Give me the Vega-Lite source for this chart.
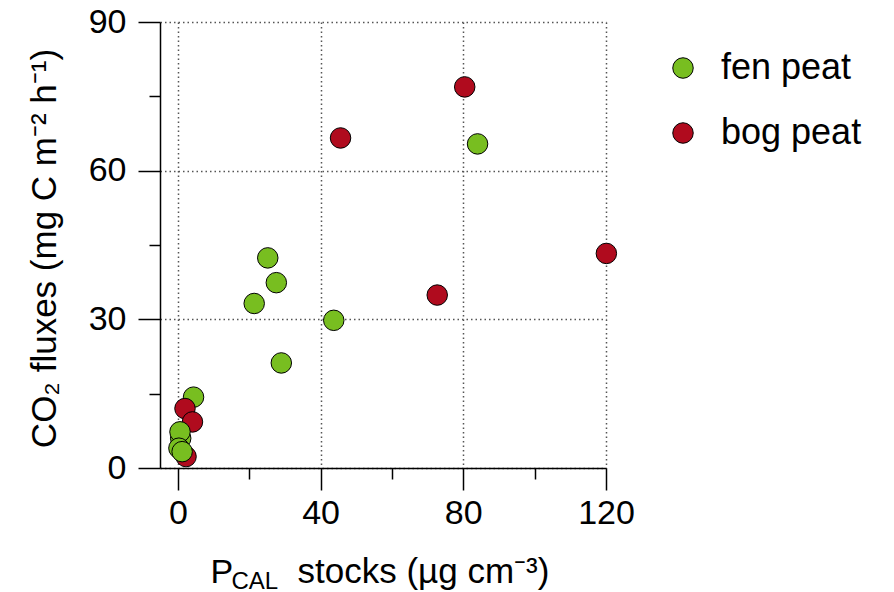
{
  "$schema": "https://vega.github.io/schema/vega-lite/v6.json",
  "width": 446,
  "height": 446,
  "autosize": {"type": "none"},
  "padding": {"left": 160, "top": 22, "right": 288, "bottom": 124},
  "background": "white",
  "config": {
    "font": "Liberation Sans",
    "view": {"stroke": null},
    "axis": {"labelFont": "Liberation Sans", "titleFont": "Liberation Sans", "labelColor": "black", "titleColor": "black", "domainColor": "black", "tickColor": "black", "titleFontWeight": "normal"}
  },
  "datasets": {
    "pts": [
      {"x": 2.3, "y": 2.3, "peat": "bog peat"},
      {"x": 4.4, "y": 14.3, "peat": "fen peat"},
      {"x": 2.0, "y": 12.0, "peat": "bog peat"},
      {"x": 4.1, "y": 9.3, "peat": "bog peat"},
      {"x": 0.8, "y": 6.0, "peat": "fen peat"},
      {"x": 0.6, "y": 7.3, "peat": "fen peat"},
      {"x": 0.3, "y": 4.0, "peat": "fen peat"},
      {"x": 1.2, "y": 3.3, "peat": "fen peat"},
      {"x": 84.0, "y": 65.4, "peat": "fen peat"},
      {"x": 25.2, "y": 42.4, "peat": "fen peat"},
      {"x": 27.6, "y": 37.4, "peat": "fen peat"},
      {"x": 21.4, "y": 33.2, "peat": "fen peat"},
      {"x": 43.7, "y": 29.8, "peat": "fen peat"},
      {"x": 29.0, "y": 21.2, "peat": "fen peat"},
      {"x": 80.4, "y": 76.9, "peat": "bog peat"},
      {"x": 45.6, "y": 66.6, "peat": "bog peat"},
      {"x": 120.1, "y": 43.3, "peat": "bog peat"},
      {"x": 72.7, "y": 34.9, "peat": "bog peat"}
    ]
  },
  "data": {"name": "pts"},
  "resolve": {"axis": {"x": "independent", "y": "independent"}},
  "layer": [
    {
      "mark": {"type": "point", "filled": true, "shape": "circle", "size": 420, "stroke": "black", "strokeWidth": 1, "opacity": 1},
      "encoding": {
        "x": {"field": "x", "type": "quantitative", "scale": {"domain": [-5, 120], "nice": false, "zero": false},
          "axis": {"orient": "bottom", "values": [0, 40, 80, 120], "tickSize": 22, "tickWidth": 1.5, "domainWidth": 1.5, "labelFontSize": 34, "labelPadding": 6, "labelFlush": false, "labelOverlap": false,
            "grid": true, "gridColor": "#555", "gridDash": [1.5, 3], "gridWidth": 1.5,
            "title": "stocks (µg cm⁻³)", "titleFontSize": 35, "titleX": 137, "titleY": 114, "titleAlign": "left", "titleBaseline": "alphabetic", "titleAnchor": null}},
        "y": {"field": "y", "type": "quantitative", "scale": {"domain": [0, 90], "nice": false},
          "axis": {"orient": "left", "values": [0, 30, 60, 90], "tickSize": 22, "tickWidth": 1.5, "domainWidth": 1.5, "labelFontSize": 34, "labelPadding": 12, "labelFlush": false, "labelOverlap": false,
            "grid": true, "gridColor": "#555", "gridDash": [1.5, 3], "gridWidth": 1.5,
            "title": "CO₂ fluxes (mg C m⁻² h⁻¹)", "titleFontSize": 35, "titleX": -105, "titleY": 226, "titleAlign": "center", "titleBaseline": "alphabetic", "titleAngle": -90}},
        "color": {"field": "peat", "type": "nominal",
          "scale": {"domain": ["fen peat", "bog peat"], "range": ["#78be20", "#b00b1e"]},
          "legend": {"title": null, "orient": "none", "legendX": 505, "legendY": 28, "padding": 0, "labelFontSize": 36, "labelFont": "Liberation Sans", "labelColor": "black", "symbolSize": 420, "symbolType": "circle", "symbolStrokeColor": "black", "symbolStrokeWidth": 1, "symbolOpacity": 1, "labelOffset": 20, "rowPadding": 29}}
      }
    },
    {
      "mark": {"type": "point", "opacity": 0},
      "encoding": {
        "x": {"field": "x", "type": "quantitative",
          "axis": {"orient": "bottom", "values": [20, 60, 100], "tickSize": 11, "tickWidth": 1.5, "domain": false, "labels": false, "grid": false,
            "title": "CAL", "titleFontSize": 24, "titleX": 71, "titleY": 120, "titleAlign": "left", "titleBaseline": "alphabetic", "titleAnchor": null}},
        "y": {"field": "y", "type": "quantitative",
          "axis": {"orient": "left", "values": [15, 45, 75], "tickSize": 11, "tickWidth": 1.5, "domain": false, "labels": false, "grid": false, "title": null}}
      }
    },
    {
      "mark": {"type": "point", "opacity": 0},
      "encoding": {
        "x": {"field": "x", "type": "quantitative",
          "axis": {"orient": "bottom", "values": [], "ticks": false, "domain": false, "labels": false, "grid": false,
            "title": "P", "titleFontSize": 34, "titleX": 50, "titleY": 114, "titleAlign": "left", "titleBaseline": "alphabetic", "titleAnchor": null}},
        "y": {"field": "y", "type": "quantitative", "axis": null}
      }
    }
  ]
}
